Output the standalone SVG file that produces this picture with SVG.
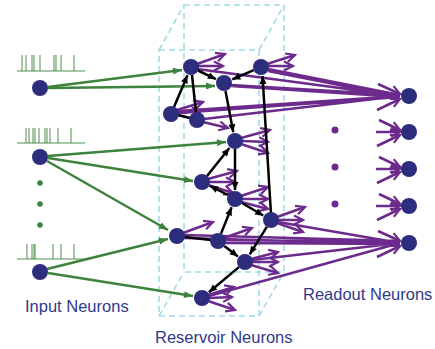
<svg xmlns="http://www.w3.org/2000/svg" width="435" height="349" viewBox="0 0 435 349">
<defs>
<style>
.n{fill:#2c2d7d}
.g{stroke:#3d823d;stroke-width:2.5;fill:none;marker-end:url(#ga)}
.k{stroke:#000;stroke-width:2.5;fill:none}
.ka{marker-end:url(#ka)}
.p{stroke:#6c2b8c;stroke-width:2.5;fill:none}
.pa{marker-end:url(#pa)}
.cube{stroke:#a3dbe6;stroke-width:1.6;stroke-dasharray:6 4;fill:none}
.sp{stroke:#4f8f4f;stroke-width:1;fill:none}
.gd{fill:#3d823d}
.pd{fill:#6c2b8c}
.t{font-family:"Liberation Sans",Arial,sans-serif;font-size:16.5px;fill:#303a8c}
</style>
<marker id="ga" markerUnits="userSpaceOnUse" markerWidth="10" markerHeight="8" refX="9" refY="3.5" orient="auto" overflow="visible"><path d="M0,0 L9,3.5 L0,7 z" fill="#3d823d"/></marker>
<marker id="ka" markerUnits="userSpaceOnUse" markerWidth="10" markerHeight="8" refX="8" refY="3.5" orient="auto" overflow="visible"><path d="M0,0 L8,3.5 L0,7 z" fill="#000"/></marker>
<marker id="pa" markerUnits="userSpaceOnUse" markerWidth="12" markerHeight="12" refX="9" refY="4.5" orient="auto" overflow="visible"><path d="M0,0 L9,4.5 L0,9" fill="none" stroke="#6c2b8c" stroke-width="2.2"/></marker>
</defs>

<g id="reservoir-box">
<rect class="cube" x="184" y="5" width="100" height="267"/>
<rect class="cube" x="159" y="50" width="100" height="266"/>
<path class="cube" d="M159,50 L184,5 M259,50 L284,5 M159,316 L184,272 M259,316 L284,272"/>
</g>

<g id="connectors">
<!-- purple long lines to readout 1 -->
<path class="p" d="M197,69 L400,96 M231,85 L400,95 M231,86 L400,97 M268,69 L400,95 M268,71 L400,97 M178,111 L400,96 M178,113 L400,97 M204,119 L400,96"/>
<!-- purple long lines to readout 5 -->
<path class="p" d="M278,222 L400,243 M184,235 L400,241 M184,238 L400,244 M225,240 L400,242 M225,243 L400,244 M252,260 L400,243 M209,296 L400,243"/>
<!-- purple short fans in reservoir -->
<path class="p pa" d="M197,64 L225,54"/>
<path class="p pa" d="M198,66 L223,66"/>
<path class="p pa" d="M267,64 L295,55"/>
<path class="p pa" d="M268,66 L293,66"/>
<path class="p pa" d="M177,110 L203,102"/>
<path class="p pa" d="M178,113 L201,111"/>
<path class="p pa" d="M203,122 L228,128"/>
<path class="p pa" d="M241,138 L270,130"/>
<path class="p pa" d="M242,141 L268,142"/>
<path class="p pa" d="M241,144 L268,153"/>
<path class="p pa" d="M208,179 L237,171"/>
<path class="p pa" d="M209,182 L235,182"/>
<path class="p pa" d="M208,185 L233,193"/>
<path class="p pa" d="M241,196 L268,187"/>
<path class="p pa" d="M242,199 L268,199"/>
<path class="p pa" d="M241,202 L268,209"/>
<path class="p pa" d="M277,217 L305,207"/>
<path class="p pa" d="M278,220 L303,220"/>
<path class="p pa" d="M277,223 L303,232"/>
<path class="p pa" d="M183,233 L213,222"/>
<path class="p pa" d="M224,238 L252,228"/>
<path class="p pa" d="M251,259 L278,252"/>
<path class="p pa" d="M252,262 L278,262"/>
<path class="p pa" d="M251,265 L278,273"/>
<path class="p pa" d="M208,295 L234,287"/>
<path class="p pa" d="M209,298 L232,297"/>
<path class="p pa" d="M208,301 L235,310"/>
<!-- readout incoming short arrows -->
<path class="p pa" d="M378,84 L400,94"/>
<path class="p pa" d="M377,110 L400,99"/>
<path class="p pa" d="M379,120 L400,130"/>
<path class="p pa" d="M376,132 L400,132"/>
<path class="p pa" d="M377,146 L400,135"/>
<path class="p pa" d="M379,157 L400,167"/>
<path class="p pa" d="M376,169 L400,169"/>
<path class="p pa" d="M377,183 L400,172"/>
<path class="p pa" d="M379,194 L400,204"/>
<path class="p pa" d="M376,206 L400,206"/>
<path class="p pa" d="M377,220 L400,209"/>
<path class="p pa" d="M378,231 L400,241"/>
<path class="p pa" d="M377,257 L400,246"/>
<!-- green input connections -->
<path class="g" d="M48,87 L182,70"/>
<path class="g" d="M48,88 L215,86"/>
<path class="g" d="M48,156 L226,142"/>
<path class="g" d="M48,158 L193,181"/>
<path class="g" d="M47,161 L168,230"/>
<path class="g" d="M47,269 L168,239"/>
<path class="g" d="M48,273 L193,296"/>
<!-- black reservoir connections -->
<path class="k ka" d="M174,107 L187.5,75.3"/>
<path class="k ka" d="M198,70.5 L215.9,79.1"/>
<path class="k ka" d="M253.7,70.2 L232.3,79.4"/>
<path class="k" d="M192,75 L196,112"/>
<path class="k" d="M178,115 L190,118"/>
<path class="k ka" d="M225.5,91 L233.3,132.2"/>
<path class="k ka" d="M271,214 L262.5,76"/>
<path class="k ka" d="M207,176 L229.4,148"/>
<path class="k ka" d="M235,149 L235,190"/>
<path class="k ka" d="M228,195 L210,186"/>
<path class="k ka" d="M242,203 L263.2,215.5"/>
<path class="k ka" d="M221,233.6 L231.6,207.3"/>
<path class="k" d="M185,237 L211,240"/>
<path class="k ka" d="M224.3,245.9 L237.9,256.5"/>
<path class="k ka" d="M266.8,226.8 L249.7,254.3"/>
<path class="k ka" d="M238.9,267.1 L208.9,292.2"/>
</g>

<g id="input-1">
<path class="sp" d="M17,71 H85 M22,71 V55 M26,71 V55 M32,71 V55 M34,71 V55 M40,71 V55 M54,71 V55 M56,71 V55 M61,71 V55 M74,71 V55"/>
<circle class="n" cx="40" cy="88" r="8"/>
</g>
<g id="input-2">
<path class="sp" d="M17,143 H85 M26,143 V128 M29,143 V128 M33,143 V128 M35,143 V128 M39,143 V128 M45,143 V128 M47,143 V128 M50,143 V128 M58,143 V128 M71,143 V128"/>
<circle class="n" cx="40" cy="157" r="8"/>
</g>
<g id="input-ellipsis">
<circle class="gd" cx="40" cy="183" r="2.8"/>
<circle class="gd" cx="40" cy="204" r="2.8"/>
<circle class="gd" cx="40" cy="225" r="2.8"/>
</g>
<g id="input-3">
<path class="sp" d="M17,259 H85 M27,259 V244 M32,259 V244 M34,259 V244 M35,259 V244 M53,259 V244 M61,259 V244 M74,259 V244"/>
<circle class="n" cx="40" cy="272" r="8"/>
</g>

<g id="res-A"><circle class="n" cx="191" cy="67" r="8"/></g>
<g id="res-B"><circle class="n" cx="224" cy="83" r="8"/></g>
<g id="res-C"><circle class="n" cx="261" cy="67" r="8"/></g>
<g id="res-D"><circle class="n" cx="171" cy="114" r="8"/></g>
<g id="res-E"><circle class="n" cx="197" cy="120" r="8"/></g>
<g id="res-F"><circle class="n" cx="235" cy="141" r="8"/></g>
<g id="res-G"><circle class="n" cx="202" cy="182" r="8"/></g>
<g id="res-H"><circle class="n" cx="235" cy="199" r="8"/></g>
<g id="res-I"><circle class="n" cx="271" cy="220" r="8"/></g>
<g id="res-J"><circle class="n" cx="177" cy="236" r="8"/></g>
<g id="res-K"><circle class="n" cx="218" cy="241" r="8"/></g>
<g id="res-L"><circle class="n" cx="245" cy="262" r="8"/></g>
<g id="res-M"><circle class="n" cx="202" cy="298" r="8"/></g>

<g id="readout-1"><circle class="n" cx="409" cy="96" r="8"/></g>
<g id="readout-2"><circle class="n" cx="409" cy="132" r="8"/></g>
<g id="readout-3"><circle class="n" cx="409" cy="169" r="8"/></g>
<g id="readout-4"><circle class="n" cx="409" cy="206" r="8"/></g>
<g id="readout-5"><circle class="n" cx="409" cy="243" r="8"/></g>
<g id="readout-ellipsis">
<circle class="pd" cx="335" cy="130" r="3.5"/>
<circle class="pd" cx="335" cy="167" r="3.5"/>
<circle class="pd" cx="335" cy="204" r="3.5"/>
</g>

<g id="labels">
<text class="t" x="25" y="312">Input Neurons</text>
<text class="t" x="155" y="343">Reservoir Neurons</text>
<text class="t" x="303" y="300">Readout Neurons</text>
</g>
</svg>
